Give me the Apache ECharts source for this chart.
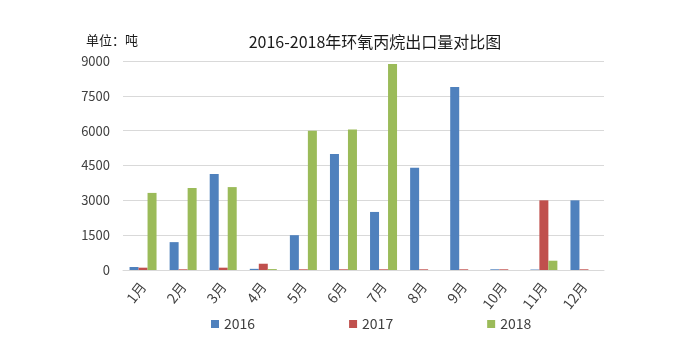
<!DOCTYPE html>
<html><head><meta charset="utf-8">
<script src="https://cdn.jsdelivr.net/npm/echarts@6/dist/echarts.min.js"></script>
<style>html,body{margin:0;padding:0;background:#fff}#c{width:687px;height:361px}</style>
</head><body><div id="c"></div>
<script>
const months = ['1月','2月','3月','4月','5月','6月','7月','8月','9月','10月','11月','12月'];
const yTicks = [0,1500,3000,4500,6000,7500,9000];
const s2016 = [130,1200,4130,50,1500,5000,2500,4400,7880,30,20,3000];
const s2017 = [100,30,100,270,30,30,30,30,30,30,3000,30];
const s2018 = [3320,3530,3570,40,6000,6050,8870,0,0,0,400,0];
const font = '"Microsoft YaHei","Noto Sans CJK SC",sans-serif';
const chart = echarts.init(document.getElementById('c'));
chart.setOption({
  animation:false,
  backgroundColor:'#fff',
  title:[
    {text:'2016-2018年环氧丙烷出口量对比图',left:370,textAlign:'center',top:29,textStyle:{fontFamily:font,fontSize:16,fontWeight:'normal',color:'#1a1a1a'}},
    {text:'单位：吨',left:81,top:29,textStyle:{fontFamily:font,fontSize:13,fontWeight:'normal',color:'#1a1a1a'}}
  ],
  legend:{left:206,top:312,itemWidth:8,itemHeight:8,itemGap:94,icon:'rect',
    textStyle:{fontFamily:font,fontSize:14,color:'#404040'},
    data:['2016','2017','2018']},
  grid:{left:123,right:83,top:61,bottom:91},
  xAxis:{type:'category',data:months,
    axisLine:{lineStyle:{color:'#d9d9d9'}},axisTick:{show:false},
    axisLabel:{rotate:52,interval:0,fontFamily:font,fontSize:14,color:'#404040',margin:14}},
  yAxis:{type:'value',min:0,max:9000,interval:1500,
    axisLine:{show:false},axisTick:{show:false},
    splitLine:{lineStyle:{color:'#d9d9d9'}},
    axisLabel:{fontFamily:font,fontSize:13,color:'#404040',margin:13,
      formatter:v=>yTicks.includes(v)?String(v):''}},
  series:[
    {name:'2016',type:'bar',data:s2016,barWidth:9,barGap:'0%',itemStyle:{color:'#4F81BD'}},
    {name:'2017',type:'bar',data:s2017,barWidth:9,barGap:'0%',itemStyle:{color:'#C0504D'}},
    {name:'2018',type:'bar',data:s2018,barWidth:9,barGap:'0%',itemStyle:{color:'#9BBB59'}}
  ]
});
</script></body></html>
